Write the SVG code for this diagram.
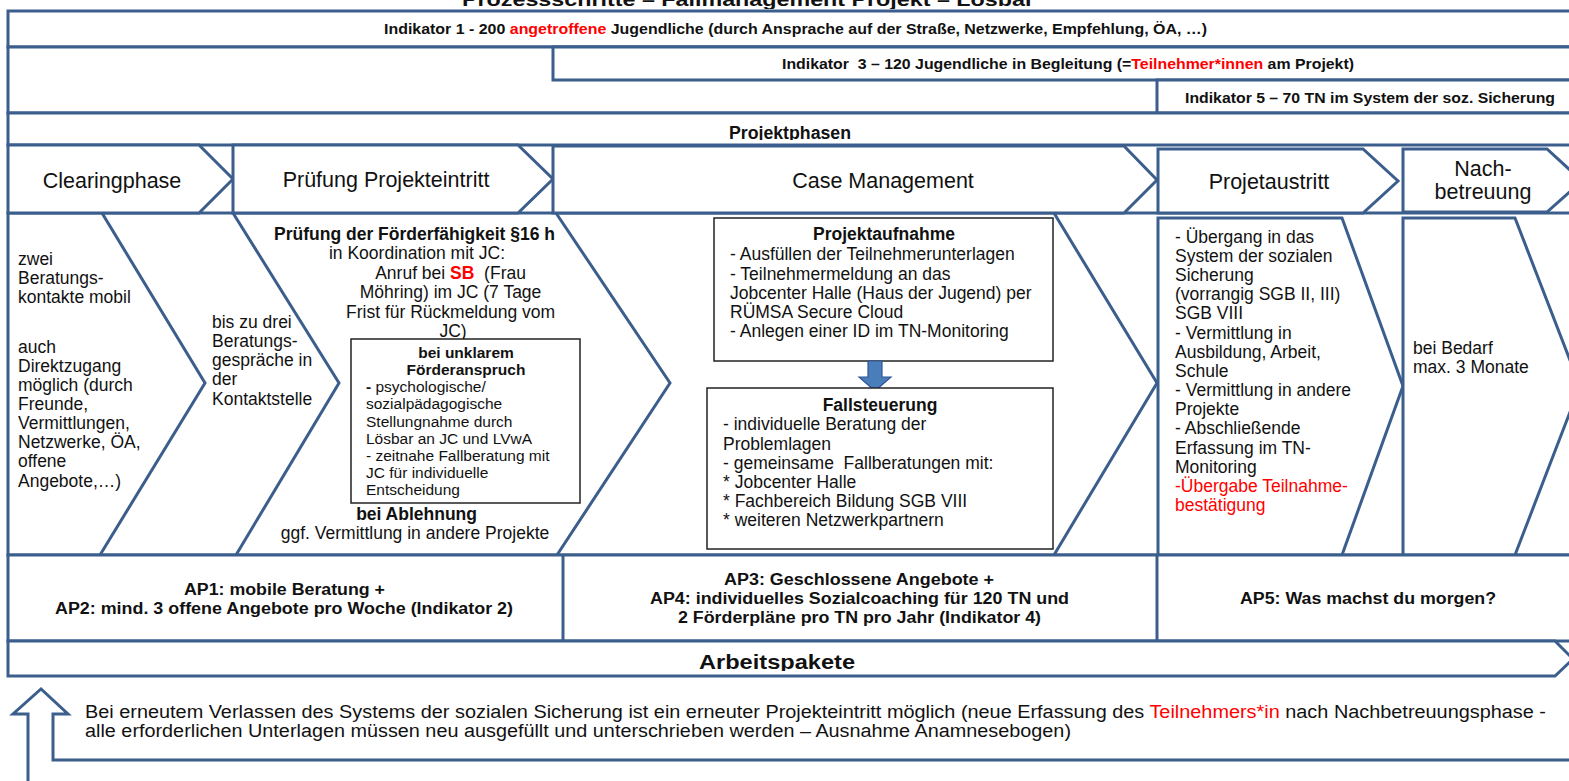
<svg xmlns="http://www.w3.org/2000/svg" width="1569" height="781" viewBox="0 0 1569 781">
<defs>
<style>
.ln{fill:#fff;stroke:#3b5e8c;stroke-width:3;stroke-linejoin:miter}
.nf{fill:none;stroke:#3b5e8c;stroke-width:3;stroke-linejoin:miter}
.bx{fill:#fff;stroke:#222;stroke-width:1.5}
.lbl{font-family:"Liberation Sans",Arial,sans-serif;font-size:21.5px;text-anchor:middle;fill:#111}
.t{font-family:"Liberation Sans",Arial,sans-serif;font-size:17.5px;fill:#111}
.c{text-anchor:middle}
.b{font-weight:bold}
.s{font-family:"Liberation Sans",Arial,sans-serif;font-size:15.5px;fill:#111}
.n{font-family:"Liberation Sans Narrow","Liberation Sans",Arial,sans-serif;font-weight:bold;font-size:15.5px;fill:#111}
.nr{font-family:"Liberation Sans Narrow","Liberation Sans",Arial,sans-serif;font-size:18px;fill:#111}
.red{fill:#ff0000}
</style>
<clipPath id="cpPP"><rect x="8" y="113" width="1561" height="27"/></clipPath>
<clipPath id="cpAP"><rect x="8" y="641" width="1561" height="30"/></clipPath>
<clipPath id="cpBox"><rect x="352" y="340" width="227" height="160"/></clipPath>
<clipPath id="cpTop"><rect x="0" y="0" width="1569" height="9"/></clipPath>
</defs>
<rect width="1569" height="781" fill="#fff"/>

<g id="title" clip-path="url(#cpTop)">
<text class="n" x="462" y="6" style="font-size:18px" textLength="572" lengthAdjust="spacingAndGlyphs">Prozessschritte – Fallmanagement Projekt – Lösbar</text>
</g>

<g id="indikator-1">
<rect class="ln" x="8" y="11" width="1600" height="36"/>
<text class="n" x="384" y="34" textLength="823" lengthAdjust="spacingAndGlyphs">Indikator 1 - 200 <tspan class="red">angetroffene</tspan> Jugendliche (durch Ansprache auf der Straße, Netzwerke, Empfehlung, ÖA, …)</text>
</g>

<g id="indikator-zeile">
<rect class="ln" x="8" y="47" width="1600" height="66"/>
</g>

<g id="indikator-3">
<rect class="ln" x="553" y="47" width="1100" height="33"/>
<text class="n" x="782" y="69" textLength="572" lengthAdjust="spacingAndGlyphs">Indikator &#160;3 – 120 Jugendliche in Begleitung (=<tspan class="red">Teilnehmer*innen</tspan> am Projekt)</text>
</g>

<g id="indikator-5">
<rect class="ln" x="1157" y="80" width="500" height="33"/>
<text class="n" x="1185" y="102.5" textLength="370" lengthAdjust="spacingAndGlyphs">Indikator 5 – 70 TN im System der soz. Sicherung</text>
</g>

<g id="projektphasen">
<rect class="ln" x="8" y="113" width="1600" height="32"/>
<text class="n" x="729" y="138.5" style="font-size:17.5px" textLength="122" lengthAdjust="spacingAndGlyphs" clip-path="url(#cpPP)">Projektphasen</text>
</g>

<g id="inhalt-zeile">
<rect class="ln" x="8" y="213" width="1600" height="342"/>
</g>

<g id="clearingphase">
<polygon class="ln" points="8,145 199,145 233,179 199,213 8,213"/>
<text class="lbl" x="112" y="188">Clearingphase</text>
<polyline class="nf" points="102,213 205,383 100,555"/>
<text class="t">
<tspan x="18" y="265">zwei</tspan>
<tspan x="18" y="284">Beratungs-</tspan>
<tspan x="18" y="303">kontakte mobil</tspan>
<tspan x="18" y="352.5">auch</tspan>
<tspan x="18" y="371.5">Direktzugang</tspan>
<tspan x="18" y="391">möglich (durch</tspan>
<tspan x="18" y="410">Freunde,</tspan>
<tspan x="18" y="429">Vermittlungen,</tspan>
<tspan x="18" y="448">Netzwerke, ÖA,</tspan>
<tspan x="18" y="467">offene</tspan>
<tspan x="18" y="486.5">Angebote,…)</tspan>
</text>
<text class="t">
<tspan x="212" y="327.5">bis zu drei</tspan>
<tspan x="212" y="346.5">Beratungs-</tspan>
<tspan x="212" y="366">gespräche in</tspan>
<tspan x="212" y="385">der</tspan>
<tspan x="212" y="404.5">Kontaktstelle</tspan>
</text>
</g>

<g id="pruefung-projekteintritt">
<polygon class="ln" points="233,145 518,145 553,179 518,213 233,213"/>
<text class="lbl" x="386" y="187">Prüfung Projekteintritt</text>
<polyline class="nf" points="233,213 339,383 236,555"/>
<text class="t c">
<tspan class="b" x="417" y="240">Prüfung der Förderfähigkeit §16 h</tspan>
<tspan x="417" y="259">in Koordination mit JC:</tspan>
</text>
<text class="t c">
<tspan x="453" y="278.5">Anruf bei <tspan class="b red">SB</tspan> &#160;(Frau</tspan>
<tspan x="453" y="298">Möhring) im JC (7 Tage</tspan>
<tspan x="453" y="317.5">Frist für Rückmeldung vom</tspan>
<tspan x="453" y="337">JC)</tspan>
</text>
<rect class="bx" x="351" y="339" width="229" height="164"/>
<g clip-path="url(#cpBox)">
<text class="s b c"><tspan x="466" y="358">bei unklarem</tspan><tspan x="466" y="375">Förderanspruch</tspan></text>
<text class="s">
<tspan x="366" y="392"><tspan class="b">-</tspan> psychologische/</tspan>
<tspan x="366" y="409">sozialpädagogische</tspan>
<tspan x="366" y="426.5">Stellungnahme durch</tspan>
<tspan x="366" y="443.5">Lösbar an JC und LVwA</tspan>
<tspan x="366" y="460.5">- zeitnahe Fallberatung mit</tspan>
<tspan x="366" y="477.5">JC für individuelle</tspan>
<tspan x="366" y="494.5">Entscheidung</tspan>
</text>
</g>
<text class="t c">
<tspan class="b" x="419" y="520">bei Ablehnung</tspan>
<tspan x="415" y="539">ggf. Vermittlung in andere Projekte</tspan>
</text>
</g>

<g id="case-management">
<polygon class="ln" points="553,146 1124,146 1157,180 1124,213 553,213"/>
<text class="lbl" x="883" y="188">Case Management</text>
<polyline class="nf" points="556,213 670,383 557,555"/>
<polyline class="nf" points="1054,213 1157,383 1054,555"/>
</g>

<g id="projektaufnahme">
<rect class="bx" x="714" y="218" width="339" height="143"/>
<text class="t b c" x="884" y="240">Projektaufnahme</text>
<text class="t">
<tspan x="730" y="260">- Ausfüllen der Teilnehmerunterlagen</tspan>
<tspan x="730" y="279.5">- Teilnehmermeldung an das</tspan>
<tspan x="730" y="298.5">Jobcenter Halle (Haus der Jugend) per</tspan>
<tspan x="730" y="317.5">RÜMSA Secure Cloud</tspan>
<tspan x="730" y="336.5">- Anlegen einer ID im TN-Monitoring</tspan>
</text>
</g>

<g id="connectors">
<polygon points="868,361 882,361 882,377 891,377 875,391 859,377 868,377" fill="#4a7ebb" stroke="#2f5597" stroke-width="1.2"/>
</g>

<g id="fallsteuerung">
<rect class="bx" x="707" y="388" width="346" height="161"/>
<text class="t b c" x="880" y="410.5">Fallsteuerung</text>
<text class="t">
<tspan x="723" y="430">- individuelle Beratung der</tspan>
<tspan x="723" y="449.5">Problemlagen</tspan>
<tspan x="723" y="468.5">- gemeinsame &#160;Fallberatungen mit:</tspan>
<tspan x="723" y="487.5">* Jobcenter Halle</tspan>
<tspan x="723" y="506.5">* Fachbereich Bildung SGB VIII</tspan>
<tspan x="723" y="525.5">* weiteren Netzwerkpartnern</tspan>
</text>
</g>

<g id="projetaustritt">
<polygon class="ln" points="1158,149 1363,149 1398,181 1363,213 1158,213"/>
<text class="lbl" x="1269" y="189">Projetaustritt</text>
<polygon class="ln" points="1158,218 1342,218 1403,386 1342,555 1158,555"/>
<text class="t">
<tspan x="1175" y="242.5">- Übergang in das</tspan>
<tspan x="1175" y="261.5">System der sozialen</tspan>
<tspan x="1175" y="281">Sicherung</tspan>
<tspan x="1175" y="300">(vorrangig SGB II, III)</tspan>
<tspan x="1175" y="319">SGB VIII</tspan>
<tspan x="1175" y="338.5">- Vermittlung in</tspan>
<tspan x="1175" y="357.5">Ausbildung, Arbeit,</tspan>
<tspan x="1175" y="376.5">Schule</tspan>
<tspan x="1175" y="396">- Vermittlung in andere</tspan>
<tspan x="1175" y="415">Projekte</tspan>
<tspan x="1175" y="434">- Abschließende</tspan>
<tspan x="1175" y="453.5">Erfassung im TN-</tspan>
<tspan x="1175" y="472.5">Monitoring</tspan>
<tspan class="red" x="1175" y="491.5">-Übergabe Teilnahme-</tspan>
<tspan class="red" x="1175" y="510.5">bestätigung</tspan>
</text>
</g>

<g id="nachbetreuung">
<polygon class="ln" points="1403,149 1547,149 1582,181 1547,212 1403,212"/>
<text class="lbl"><tspan x="1483" y="175.5">Nach-</tspan><tspan x="1483" y="199">betreuung</tspan></text>
<polygon class="ln" points="1403,218 1515,218 1580,386 1515,555 1403,555"/>
<text class="t"><tspan x="1413" y="353.5">bei Bedarf</tspan><tspan x="1413" y="372.5">max. 3 Monate</tspan></text>
</g>

<g id="arbeitspakete-zeile">
<rect class="ln" x="8" y="555" width="1600" height="86"/>
<line class="nf" x1="563" y1="555" x2="563" y2="641"/>
<line class="nf" x1="1157" y1="555" x2="1157" y2="641"/>
</g>

<g id="ap1-ap2">
<text class="n" x="184" y="595" style="font-size:16px" textLength="201" lengthAdjust="spacingAndGlyphs">AP1: mobile Beratung +</text>
<text class="n" x="55" y="614" style="font-size:16px" textLength="458" lengthAdjust="spacingAndGlyphs">AP2: mind. 3 offene Angebote pro Woche (Indikator 2)</text>
</g>

<g id="ap3-ap4">
<text class="n" x="724" y="585" style="font-size:16px" textLength="270" lengthAdjust="spacingAndGlyphs">AP3: Geschlossene Angebote +</text>
<text class="n" x="650" y="604" style="font-size:16px" textLength="419" lengthAdjust="spacingAndGlyphs">AP4: individuelles Sozialcoaching für 120 TN und</text>
<text class="n" x="678" y="623" style="font-size:16px" textLength="363" lengthAdjust="spacingAndGlyphs">2 Förderpläne pro TN pro Jahr (Indikator 4)</text>
</g>

<g id="ap5">
<text class="n" x="1240" y="604" style="font-size:16px" textLength="256" lengthAdjust="spacingAndGlyphs">AP5: Was machst du morgen?</text>
</g>

<g id="arbeitspakete">
<polygon class="ln" points="8,641 1555,641 1573,659 1555,676 8,676"/>
<text class="n" x="699" y="669" style="font-size:19.5px" textLength="156" lengthAdjust="spacingAndGlyphs" clip-path="url(#cpAP)">Arbeitspakete</text>
</g>

<g id="wiedereintritt">
<polyline class="nf" points="1580,760 53,760 53,714 68,714 41,689 13,714 28,714 28,795"/>
<text class="nr" x="85" y="718" textLength="1461" lengthAdjust="spacingAndGlyphs">Bei erneutem Verlassen des Systems der sozialen Sicherung ist ein erneuter Projekteintritt möglich (neue Erfassung des <tspan class="red">Teilnehmers*in</tspan> nach Nachbetreuungsphase -</text>
<text class="nr" x="85" y="737" textLength="986" lengthAdjust="spacingAndGlyphs">alle erforderlichen Unterlagen müssen neu ausgefüllt und unterschrieben werden – Ausnahme Anamnesebogen)</text>
</g>
</svg>
